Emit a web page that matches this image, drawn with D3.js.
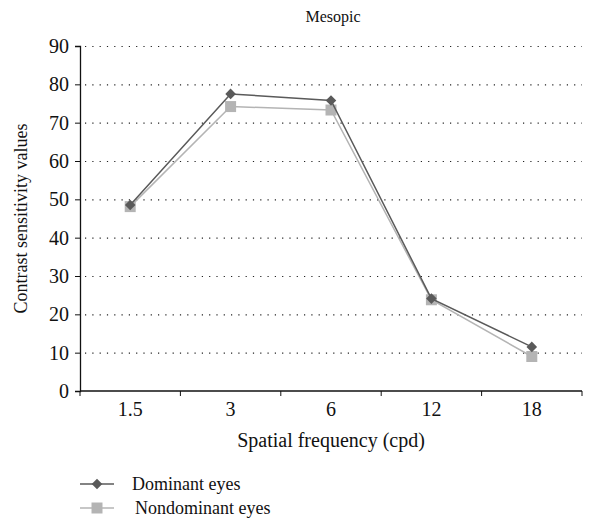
<!DOCTYPE html>
<html>
<head>
<meta charset="utf-8">
<script src="https://cdn.jsdelivr.net/npm/d3@7"></script>
<style>
  body { margin: 0; background: #fff; }
  text { font-family: "Liberation Serif", "DejaVu Serif", serif; fill: #111; }
</style>
</head>
<body>
<svg id="chart" width="606" height="522"></svg>
<script>
const categories = ['1.5', '3', '6', '12', '18'];
const dominant = [48.5, 77.5, 75.8, 24.1, 11.5];
const nondominant = [48.1, 74.2, 73.3, 23.8, 9.0];
const yTicks = [0, 10, 20, 30, 40, 50, 60, 70, 80, 90];

const margin = { top: 46, right: 24, bottom: 131, left: 80 };
const width = 606 - margin.left - margin.right;
const height = 522 - margin.top - margin.bottom;

const svg = d3.select('#chart');
const g = svg.append('g').attr('transform', 'translate(' + margin.left + ',' + margin.top + ')');

const x = d3.scaleBand().domain(categories).range([0, width]);
const y = d3.scaleLinear().domain([0, 90]).range([height, 0]);

// dotted grid
g.selectAll('.grid')
  .data(yTicks.filter(d => d > 0))
  .enter().append('line')
  .attr('x1', 5).attr('x2', width)
  .attr('y1', d => y(d) + 0.5).attr('y2', d => y(d) + 0.5)
  .attr('stroke', '#222')
  .attr('stroke-width', 1.2)
  .attr('stroke-dasharray', '1.2,6.1');

// axes
const yAxis = g.append('g')
  .call(d3.axisLeft(y).tickValues(yTicks).tickSize(5).tickPadding(6));
const xAxis = g.append('g')
  .attr('transform', 'translate(0,' + height + ')')
  .call(d3.axisBottom(x).tickSize(0).tickPadding(11));

xAxis.selectAll('.tick').append('line')
  .attr('x1', -x.bandwidth() / 2).attr('x2', -x.bandwidth() / 2)
  .attr('y1', 0).attr('y2', 5)
  .attr('stroke', '#111');
xAxis.append('line')
  .attr('x1', width).attr('x2', width).attr('y1', 0).attr('y2', 5).attr('stroke', '#111');

[yAxis, xAxis].forEach(a => {
  a.attr('font-size', null).attr('font-family', null);
  a.select('.domain').attr('stroke', '#111').attr('stroke-width', 1.3);
  a.selectAll('.tick line').attr('stroke', '#111');
  a.selectAll('text').style('font-size', '20px').attr('fill', '#111');
});
xAxis.select('.domain').attr('d', 'M0,0H' + width);

const line = d3.line()
  .x((d, i) => x(categories[i]) + x.bandwidth() / 2)
  .y(d => y(d));

// diamond drawn as a square turned 45 degrees
const series = [
  { name: 'Dominant eyes', values: dominant, color: '#5a5a5a', shape: d3.symbolSquare, size: 56, rot: 45 },
  { name: 'Nondominant eyes', values: nondominant, color: '#b4b4b4', shape: d3.symbolSquare, size: 121, rot: 0 }
];

series.slice().reverse().forEach(s => {
  g.append('path')
    .datum(s.values)
    .attr('d', line)
    .attr('fill', 'none')
    .attr('stroke', s.color)
    .attr('stroke-width', 1.5);
  g.selectAll(null)
    .data(s.values)
    .enter().append('path')
    .attr('d', d3.symbol().type(s.shape).size(s.size))
    .attr('transform', (d, i) => 'translate(' + (x(categories[i]) + x.bandwidth() / 2) + ',' + y(d) + ') rotate(' + s.rot + ')')
    .attr('fill', s.color);
});

// title and labels
svg.append('text')
  .attr('x', 333).attr('y', 22)
  .attr('text-anchor', 'middle')
  .style('font-size', '16px')
  .text('Mesopic');

svg.append('text')
  .attr('transform', 'translate(27,' + (margin.top + height / 2) + ') rotate(-90)')
  .attr('text-anchor', 'middle')
  .style('font-size', '18px')
  .text('Contrast sensitivity values');

svg.append('text')
  .attr('x', margin.left + width / 2).attr('y', 447)
  .attr('text-anchor', 'middle')
  .style('font-size', '20px')
  .text('Spatial frequency (cpd)');

// legend
const legend = svg.append('g').attr('transform', 'translate(80,484)');
series.forEach((s, i) => {
  const row = legend.append('g').attr('transform', 'translate(0,' + (i * 24) + ')');
  row.append('line').attr('x1', 0).attr('x2', 34).attr('y1', 0).attr('y2', 0)
    .attr('stroke', s.color).attr('stroke-width', 1.5);
  row.append('path').attr('d', d3.symbol().type(s.shape).size(s.size))
    .attr('transform', 'translate(17,0) rotate(' + s.rot + ')').attr('fill', s.color);
  row.append('text').attr('x', 52 + i * 3).attr('y', 6)
    .style('font-size', '18px')
    .text(s.name);
});
</script>
</body>
</html>
